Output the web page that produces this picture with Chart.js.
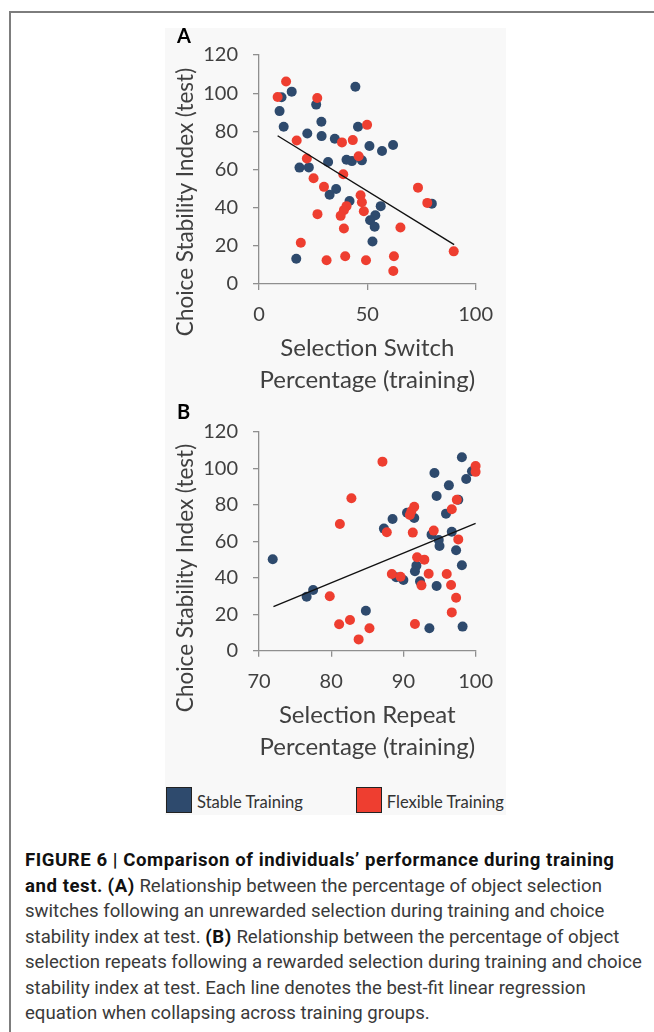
<!DOCTYPE html>
<html>
<head>
<meta charset="utf-8">
<script src="https://cdn.jsdelivr.net/npm/chart.js@4.4.1/dist/chart.umd.min.js"></script>
<style>
  html, body { margin: 0; padding: 0; background: #fff; }
  body { width: 654px; height: 1032px; position: relative; overflow: hidden; font-family: Lato, sans-serif; }
  .frame { position: absolute; left: 9px; top: 11px; width: 700px; height: 1100px;
           border-top: 2px solid #7d7d7d; border-left: 2px solid #7d7d7d; }
  .panel-bg { position: absolute; left: 165px; top: 28px; width: 341px; height: 787px; background: #f8f8f8; }
  .wrap { position: absolute; left: 165px; width: 341px; }
  #wrapA { top: 28px; height: 372px; }
  #wrapB { top: 400px; height: 370px; }
  .legend { position: absolute; left: 166px; top: 787px; height: 26px; display: flex; align-items: center;
            font-family: Lato, sans-serif; font-size: 16.6px; color: #333; }
  .legend .item { display: flex; align-items: center; margin-right: 53px; }
  .legend .item:last-child { margin-right: 0; }
  .legend .box { width: 24px; height: 24px; border: 1px solid #222; margin-right: 5px; }
  .legend .item span:last-child { position: relative; top: 2px; }
  .caption { position: absolute; left: 25px; top: 848px; font-family: Roboto, sans-serif; font-size: 18.6px;
             line-height: 25.5px; color: #3a3a3a; white-space: nowrap; }
  .caption b { color: #111; font-weight: 700; letter-spacing: 0.55px; }
</style>
</head>
<body>
<div class="frame"></div>
<div class="panel-bg"></div>
<div class="wrap" id="wrapA"><canvas id="chartA" width="341" height="372"></canvas></div>
<div class="wrap" id="wrapB"><canvas id="chartB" width="341" height="370"></canvas></div>
<div class="legend" id="legend"></div>
<div class="caption"><b>FIGURE 6 | Comparison of individuals’ performance during training<br>and test.</b> <b>(A)</b> Relationship between the percentage of object selection<br>switches following an unrewarded selection during training and choice<br>stability index at test. <b>(B)</b> Relationship between the percentage of object<br>selection repeats following a rewarded selection during training and choice<br>stability index at test. Each line denotes the best-fit linear regression<br>equation when collapsing across training groups.</div>

<script>
// Panel A: selection switch percentage (training) vs choice stability index (test)
const stableSwitchX = [10.4, 15.1, 9.5, 11.4, 26.4, 28.8, 28.9, 22.3, 35.0, 44.5, 45.7, 51.0, 56.8, 61.9, 40.4,
                       42.9, 47.5, 31.9, 18.7, 23.0, 35.6, 32.6, 41.8, 56.2, 53.7, 51.3, 53.4, 52.4, 17.2, 79.8];
const stableSwitchY = [97.9, 100.8, 90.6, 82.4, 94.0, 85.0, 77.5, 78.9, 76.1, 103.4, 82.4, 72.3, 69.7, 72.8, 65.1,
                       64.4, 64.8, 63.9, 61.0, 61.1, 49.8, 46.8, 43.5, 40.8, 36.0, 33.4, 30.0, 22.3, 13.2, 42.1];
const flexSwitchX = [8.6, 12.5, 26.9, 17.4, 38.3, 43.3, 49.9, 46.0, 22.1, 38.9, 25.2, 30.0, 46.9, 47.5, 48.4,
                     40.4, 39.2, 37.7, 27.0, 39.2, 65.3, 73.4, 77.7, 19.3, 31.2, 39.8, 49.4, 62.3, 62.0, 89.9];
const flexSwitchY = [98.0, 106.1, 97.5, 75.2, 74.2, 75.4, 83.4, 66.9, 65.8, 57.5, 55.4, 50.9, 46.5, 42.8, 38.1,
                     40.8, 38.7, 35.7, 36.6, 29.1, 29.6, 50.5, 42.5, 21.6, 12.4, 14.5, 12.4, 14.5, 6.8, 17.1];
const fitSwitchX = [8.6, 90.1];
const fitSwitchY = [77.7, 20.6];
const switchTicksX = [0, 50, 100];

// Panel B: selection repeat percentage (training) vs choice stability index (test)
const stableRepeatX = [71.9, 98.1, 94.3, 98.7, 99.5, 96.3, 94.6, 97.6, 95.9, 90.5, 91.5, 88.5, 87.3, 96.7, 93.9,
                       94.9, 95.0, 97.3, 98.1, 91.8, 91.6, 76.6, 77.5, 89.0, 90.0, 92.3, 94.6, 84.8, 93.6, 98.2];
const stableRepeatY = [50.1, 106.0, 97.4, 94.1, 98.3, 90.6, 84.8, 82.7, 75.1, 75.6, 72.7, 72.2, 66.9, 65.2, 63.6,
                       60.7, 57.4, 55.0, 46.8, 46.6, 43.5, 29.6, 33.3, 40.2, 38.7, 38.0, 35.5, 21.9, 12.3, 13.2];
const flexRepeatX = [87.1, 82.8, 81.2, 87.7, 91.1, 91.5, 90.9, 91.3, 97.4, 96.7, 100.0, 100.0, 94.2, 97.6, 91.9,
                     92.9, 93.5, 96.0, 88.4, 89.6, 92.5, 96.6, 97.3, 96.7, 79.8, 81.1, 82.6, 83.8, 85.3, 91.6];
const flexRepeatY = [103.6, 83.5, 69.4, 64.9, 76.4, 78.9, 74.4, 64.7, 82.7, 77.5, 101.2, 98.0, 65.8, 61.0, 51.2,
                     49.9, 42.2, 42.0, 42.0, 40.5, 35.8, 36.0, 29.0, 21.0, 29.8, 14.5, 16.8, 6.2, 12.3, 14.6];
const fitRepeatX = [72.0, 100.0];
const fitRepeatY = [24.1, 69.8];
const repeatTicksX = [70, 80, 90, 100];

const stabilityTicks = [0, 20, 40, 60, 80, 100, 120];
const groupNames = ['Stable Training', 'Flexible Training'];

const STABLE_COLOR = '#2e4a6d';
const FLEX_COLOR = '#ee3e30';
const AXIS_COLOR = '#8f8f8f';
const TEXT_COLOR = '#404040';
const FONT = 'Lato, sans-serif';

const toPoints = (xs, ys) => xs.map((x, i) => ({ x, y: ys[i] }));

// Panel letter and rotated y-axis title, drawn on the chart canvas
const panelDecor = {
  id: 'panelDecor',
  afterDraw(chart, args, o) {
    const ctx = chart.ctx;
    ctx.save();
    ctx.fillStyle = '#000';
    ctx.font = 'bold 20px ' + FONT;
    ctx.textAlign = 'left';
    ctx.textBaseline = 'alphabetic';
    ctx.fillText(o.letter, o.letterX, o.letterY);
    ctx.translate(o.titleX, o.titleY);
    ctx.rotate(-Math.PI / 2);
    ctx.textAlign = 'center';
    ctx.textBaseline = 'middle';
    ctx.font = '22.5px ' + FONT;
    ctx.fillStyle = TEXT_COLOR;
    ctx.fillText(o.title, 0, 0);
    ctx.restore();
  }
};

function axisStyle() {
  return {
    grid: { drawOnChartArea: false, drawTicks: true, tickLength: 6, color: AXIS_COLOR, lineWidth: 1.3 },
    border: { display: true, color: AXIS_COLOR, width: 1.3 }
  };
}

function makePanel(canvasId, cfg) {
  const canvas = document.getElementById(canvasId);
  const H = canvas.height;
  return new Chart(canvas, {
    type: 'scatter',
    data: {
      datasets: [
        { type: 'line', data: toPoints(cfg.fitX, cfg.fitY), borderColor: '#111', borderWidth: 1.4,
          pointRadius: 0, fill: false, tension: 0, clip: false },
        { label: groupNames[1], data: toPoints(cfg.flexX, cfg.flexY), backgroundColor: FLEX_COLOR,
          borderWidth: 0, pointRadius: 5, pointHoverRadius: 5, clip: false },
        { label: groupNames[0], data: toPoints(cfg.stableX, cfg.stableY), backgroundColor: STABLE_COLOR,
          borderWidth: 0, pointRadius: 5, pointHoverRadius: 5, clip: false }
      ]
    },
    options: {
      responsive: false,
      devicePixelRatio: 1,
      animation: false,
      events: [],
      layout: { padding: { left: 0, right: 22, top: cfg.top, bottom: 0 } },
      plugins: {
        legend: { display: false },
        tooltip: { enabled: false },
        panelDecor: cfg.decor
      },
      scales: {
        x: {
          type: 'linear',
          min: cfg.xTicks[0],
          max: cfg.xTicks[cfg.xTicks.length - 1],
          afterBuildTicks: s => { s.ticks = cfg.xTicks.map(v => ({ value: v })); },
          ticks: { font: { family: FONT, size: 20 }, color: TEXT_COLOR, padding: 13, maxRotation: 0 },
          ...axisStyle(),
          title: { display: true, text: cfg.xTitle, color: TEXT_COLOR,
                   font: { family: FONT, size: 24, lineHeight: 32 / 24 },
                   padding: { top: 0, bottom: cfg.titlePad } },
          afterFit: s => { s.height = H - cfg.bottom; }
        },
        y: {
          type: 'linear',
          min: 0,
          max: 120,
          afterBuildTicks: s => { s.ticks = stabilityTicks.map(v => ({ value: v })); },
          ticks: { font: { family: FONT, size: 20 }, color: TEXT_COLOR, padding: 15 },
          ...axisStyle(),
          afterFit: s => { s.width = 94; }
        }
      }
    },
    plugins: [panelDecor]
  });
}

const chartA = makePanel('chartA', {
  stableX: stableSwitchX, stableY: stableSwitchY,
  flexX: flexSwitchX, flexY: flexSwitchY,
  fitX: fitSwitchX, fitY: fitSwitchY,
  xTicks: switchTicksX,
  xTitle: ['Selection Switch', 'Percentage (training)'],
  top: 26.3, bottom: 256, titlePad: 4,
  decor: { letter: 'A', letterX: 12, letterY: 14.5, title: 'Choice Stability Index (test)', titleX: 21, titleY: 174 }
});

const chartB = makePanel('chartB', {
  stableX: stableRepeatX, stableY: stableRepeatY,
  flexX: flexRepeatX, flexY: flexRepeatY,
  fitX: fitRepeatX, fitY: fitRepeatY,
  xTicks: repeatTicksX,
  xTitle: ['Selection Repeat', 'Percentage (training)'],
  top: 31.7, bottom: 250.7, titlePad: 7,
  decor: { letter: 'B', letterX: 12, letterY: 18.5, title: 'Choice Stability Index (test)', titleX: 21, titleY: 178 }
});

// Group legend shared by both panels, built from the panel B datasets
(function buildLegend(chart) {
  const host = document.getElementById('legend');
  const groups = chart.data.datasets.filter(d => d.label).slice().reverse();
  groups.forEach(d => {
    const item = document.createElement('div');
    item.className = 'item';
    const box = document.createElement('span');
    box.className = 'box';
    box.style.background = d.backgroundColor;
    const txt = document.createElement('span');
    txt.textContent = d.label;
    item.appendChild(box);
    item.appendChild(txt);
    host.appendChild(item);
  });
})(chartB);
</script>
</body>
</html>
